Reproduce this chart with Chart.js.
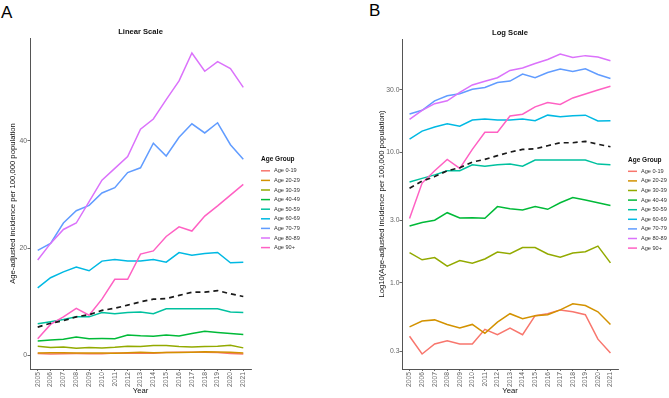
<!DOCTYPE html>
<html lang="en">
<head>
<meta charset="utf-8">
<title>Age-adjusted incidence by age group</title>
<script src="https://cdn.jsdelivr.net/npm/chart.js@4.4.0/dist/chart.umd.min.js"></script>
<style>
  html, body { margin: 0; padding: 0; background: #fff; }
  body { width: 669px; height: 398px; position: relative; overflow: hidden; font-family: "Liberation Sans", Arial, sans-serif; }
  .tag { position: absolute; font-size: 17px; line-height: 17px; color: #000; }
  canvas { position: absolute; top: 0; }
</style>
</head>
<body>
<div class="tag" style="left:1px; top:4px">A</div>
<div class="tag" style="left:369px; top:2px">B</div>
<canvas id="chart-linear" width="335" height="398" style="left:0"></canvas>
<canvas id="chart-log" width="334" height="398" style="left:335px"></canvas>

<script>
  // data
  const years = [2005, 2006, 2007, 2008, 2009, 2010, 2011, 2012, 2013, 2014, 2015, 2016, 2017, 2018, 2019, 2020, 2021];
  const ageGroups = ['Age 0-19', 'Age 20-29', 'Age 30-39', 'Age 40-49', 'Age 50-59', 'Age 60-69', 'Age 70-79', 'Age 80-89', 'Age 90+'];
  const groupColors = ['#F8766D', '#D39200', '#93AA00', '#00BA38', '#00C19F', '#00B9E3', '#619CFF', '#DB72FB', '#FF61C3'];

  const age0to19  = [0.39, 0.285, 0.34, 0.36, 0.34, 0.34, 0.44, 0.40, 0.45, 0.40, 0.56, 0.58, 0.62, 0.60, 0.57, 0.37, 0.29];
  const age20to29 = [0.46, 0.51, 0.52, 0.48, 0.45, 0.48, 0.41, 0.50, 0.58, 0.53, 0.56, 0.57, 0.62, 0.69, 0.67, 0.60, 0.48];
  const age30to39 = [1.70, 1.50, 1.56, 1.34, 1.48, 1.41, 1.52, 1.72, 1.67, 1.86, 1.86, 1.66, 1.57, 1.69, 1.73, 1.91, 1.42];
  const age40to49 = [2.72, 2.89, 3.01, 3.44, 3.13, 3.15, 3.12, 3.83, 3.69, 3.61, 3.83, 3.65, 4.1, 4.5, 4.3, 4.1, 3.9];
  const age50to59 = [5.9, 6.3, 6.7, 7.2, 7.2, 8.0, 7.8, 8.0, 8.1, 7.8, 8.7, 8.7, 8.7, 8.7, 8.7, 8.1, 8.0];
  const age60to69 = [12.6, 14.5, 15.6, 16.5, 15.8, 17.6, 17.9, 17.6, 17.6, 17.9, 17.4, 19.2, 18.7, 19.0, 19.2, 17.3, 17.4];
  const age70to79 = [19.6, 20.9, 24.7, 27.0, 28.0, 30.3, 31.3, 34.1, 35.0, 39.6, 37.2, 40.7, 43.2, 41.5, 43.4, 39.3, 36.6];
  const age80to89 = [17.8, 20.9, 23.5, 24.7, 28.7, 32.7, 34.9, 37.1, 42.2, 44.1, 47.7, 51.2, 56.4, 53.0, 54.8, 53.5, 50.0];
  const age90plus = [3.1, 5.8, 7.2, 8.8, 7.5, 10.5, 14.2, 14.2, 18.9, 19.5, 22.2, 24.0, 23.2, 26.0, 27.9, 29.9, 31.9];
  const allAges   = [5.3, 6.0, 6.5, 7.2, 7.6, 8.4, 8.8, 9.4, 10.0, 10.5, 10.6, 11.2, 11.8, 11.8, 12.1, 11.5, 11.0];

  const linearTicks = [0, 20, 40];
  const logTicks = [0.3, 1, 3, 10, 30];
  const legendTitle = 'Age Group';

  const seriesByGroup = [age0to19, age20to29, age30to39, age40to49, age50to59, age60to69, age70to79, age80to89, age90plus];

  Chart.defaults.font.family = '"Liberation Sans", Arial, sans-serif';

  function toPoints(values) {
    return years.map((yr, i) => ({x: yr, y: values[i]}));
  }

  function buildDatasets() {
    let sets = ageGroups.map((name, i) => ({
      label: name,
      data: toPoints(seriesByGroup[i]),
      borderColor: groupColors[i],
      borderWidth: 1.5,
      pointRadius: 0,
      order: ageGroups.length - i
    }));
    sets.push({
      label: 'All ages',
      data: toPoints(allAges),
      borderColor: '#1a1a1a',
      borderWidth: 1.7,
      borderDash: [5, 4],
      pointRadius: 0,
      order: 0
    });
    return sets;
  }

  // data range with ggplot-like 5% expansion
  let allValues = seriesByGroup.flat().concat(allAges);
  let lo = Math.min(...allValues), hi = Math.max(...allValues);
  const linMin = lo - (hi - lo) * 0.05;
  const linMax = hi + (hi - lo) * 0.05;
  let llo = Math.log10(lo), lhi = Math.log10(hi);
  const logMin = Math.pow(10, llo - (lhi - llo) * 0.05);
  const logMax = Math.pow(10, lhi + (lhi - llo) * 0.05);

  // panel title + age group legend, placed relative to the plot area
  const panelDecor = {
    id: 'panelDecor',
    afterDraw(chart, args, opts) {
      let {ctx, chartArea} = chart;
      let mid = (chartArea.left + chartArea.right) / 2;
      ctx.save();
      ctx.textBaseline = 'middle';
      ctx.fillStyle = '#111';
      ctx.textAlign = 'center';
      ctx.font = 'bold 7.6px "Liberation Sans"';
      ctx.fillText(opts.title, mid, chartArea.top - 6);

      let lx = chartArea.right + 10;
      let y = (chartArea.top + chartArea.bottom) / 2 - 44;
      ctx.textAlign = 'left';
      ctx.font = 'bold 6.5px "Liberation Sans"';
      ctx.fillText(legendTitle, lx, y);
      y += 1.7;
      ctx.font = '5.6px "Liberation Sans"';
      ageGroups.forEach((name, i) => {
        y += 9.6;
        ctx.strokeStyle = groupColors[i];
        ctx.lineWidth = 1.5;
        ctx.beginPath();
        ctx.moveTo(lx, y);
        ctx.lineTo(lx + 9, y);
        ctx.stroke();
        ctx.fillStyle = '#333';
        ctx.fillText(name, lx + 13, y);
      });
      ctx.restore();
    }
  };

  function xScale() {
    return {
      type: 'linear',
      min: years[0] - 0.6,
      max: years[years.length - 1] + 0.6,
      afterBuildTicks(s) { s.ticks = years.map(v => ({value: v})); },
      afterFit(s) { s.height = 29; },
      ticks: {autoSkip: false, minRotation: 90, maxRotation: 90, padding: 1, color: '#666', font: {size: 6.8},
        callback: v => String(v)},
      grid: {drawOnChartArea: false, drawTicks: true, tickLength: 2, color: '#444', lineWidth: 0.8},
      border: {display: true, color: '#555', width: 1},
      title: {display: true, text: 'Year', color: '#111', font: {size: 7.7, lineHeight: 1}, padding: {top: 0, bottom: 3}}
    };
  }

  function yAxisCommon(width, titleText, titlePad) {
    return {
      afterFit(s) { s.width = width; },
      grid: {drawOnChartArea: false, drawTicks: true, tickLength: 2.5, color: '#444', lineWidth: 0.8},
      border: {display: true, color: '#555', width: 1},
      title: {display: true, text: titleText, color: '#111', font: {size: 7.7}, padding: {top: titlePad, bottom: 0}}
    };
  }

  let linearY = Object.assign(yAxisCommon(30, 'Age-adjusted incidence per 100,000 population', 8.5), {
    type: 'linear',
    min: linMin,
    max: linMax,
    afterBuildTicks(s) { s.ticks = linearTicks.map(v => ({value: v})); },
    ticks: {padding: 0.5, color: '#666', font: {size: 6.8}}
  });

  let logY = Object.assign(yAxisCommon(67, 'Log10(Age-adjusted incidence per 100,000 population)', 42.5), {
    type: 'logarithmic',
    min: logMin,
    max: logMax,
    afterBuildTicks(s) { s.ticks = logTicks.map(v => ({value: v})); },
    ticks: {padding: 0, color: '#666', font: {size: 6.8}, callback: v => Number(v).toFixed(1)}
  });

  function makeChart(id, yScale, title, pad) {
    return new Chart(id, {
      type: 'line',
      data: {datasets: buildDatasets()},
      options: {
        responsive: false,
        animation: false,
        devicePixelRatio: 1,
        layout: {padding: pad},
        elements: {line: {tension: 0}},
        plugins: {
          legend: {display: false},
          tooltip: {enabled: false},
          panelDecor: {title: title}
        },
        scales: {x: xScale(), y: yScale}
      },
      plugins: [panelDecor]
    });
  }

  makeChart('chart-linear', linearY, 'Linear Scale', {left: 0, top: 38, right: 84, bottom: 0});
  makeChart('chart-log', logY, 'Log Scale', {left: 0, top: 39, right: 51, bottom: 0});
</script>
</body>
</html>
